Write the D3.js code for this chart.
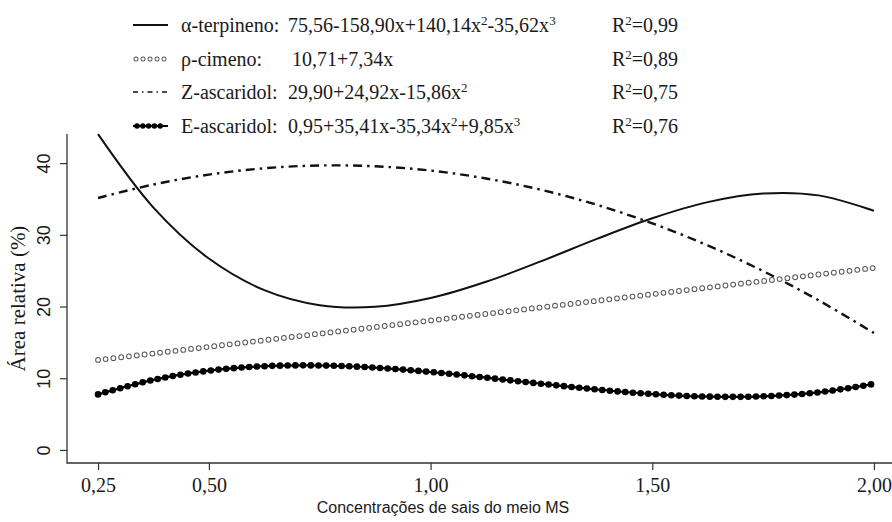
<!DOCTYPE html>
<html><head><meta charset="utf-8">
<script src="https://cdn.jsdelivr.net/npm/d3@7"></script>
<style>body{margin:0;background:#fff}svg{display:block}</style>
</head><body>
<svg id="c" width="892" height="522"></svg>
<script>
// Data (concentration of MS salts vs relative area %)
const concentrations = [0.25,0.375,0.5,0.625,0.75,0.875,1.0,1.125,1.25,1.375,1.5,1.625,1.75,1.875,2.0];
const alphaTerpineno = [44.04,33.80,26.69,22.29,20.19,19.96,21.18,23.45,26.33,29.43,32.31,34.56,35.76,35.50,33.36];
const rhoCimeno      = [12.55,13.46,14.38,15.30,16.22,17.13,18.05,18.97,19.89,20.80,21.72,22.64,23.56,24.47,25.39];
const zAscaridol     = [35.14,37.02,38.40,39.28,39.67,39.56,38.96,37.86,36.27,34.18,31.60,28.52,24.94,20.87,16.30];
const eAscaridol     = [7.75,9.78,11.05,11.68,11.78,11.48,10.87,10.08,9.23,8.43,7.79,7.44,7.48,8.03,9.21];

const xTicks = [0.25,0.5,1.0,1.5,2.0];
const xTickLabels = ["0,25","0,50","1,00","1,50","2,00"];
const yTicks = [0,10,20,30,40];

const legendNames = ["α-terpineno:","ρ-cimeno:","Z-ascaridol:","E-ascaridol:"];
// equations as segments: [text, superscript?]
const legendEquations = [
  [["75,56-158,90x+140,14x",0],["2",1],["-35,62x",0],["3",1]],
  [["10,71+7,34x",0]],
  [["29,90+24,92x-15,86x",0],["2",1]],
  [["0,95+35,41x-35,34x",0],["2",1],["+9,85x",0],["3",1]]
];
const legendR2 = ["0,99","0,89","0,75","0,76"];

const xTitle = "Concentrações de sais do meio MS";
const yTitle = "Área relativa (%)";

const svg = d3.select("#c");
const W = 892, H = 522;
const x = d3.scaleLinear().domain([0.18, 2.07]).range([67, 905]);
const y = d3.scaleLinear().domain([-1.82, 44.06]).range([463, 134]);

const serif = "'Liberation Serif','Times New Roman',serif";
const sans = "'Liberation Sans',Arial,sans-serif";
const axisColor = "#333";
const textColor = "#1a1a1a";

// L-shaped box
svg.append("path").attr("d", `M${x.range()[0]},${y.range()[1]}V${y.range()[0]}H${W}`)
  .attr("fill","none").attr("stroke",axisColor).attr("stroke-width",1.3);

// y axis
const gy = svg.append("g").attr("transform",`translate(${x.range()[0]},0)`)
  .call(d3.axisLeft(y).tickValues(yTicks).tickSize(7).tickFormat(d=>String(d)));
gy.select(".domain").remove();
gy.selectAll("line").attr("stroke",axisColor).attr("stroke-width",1.2);
gy.selectAll("text").attr("transform","rotate(-90)").attr("x",0).attr("y",-17).attr("dy",0)
  .attr("text-anchor","middle").attr("font-family",sans).attr("font-size",18).attr("fill",textColor);

// x axis
const gx = svg.append("g").attr("transform",`translate(0,${y.range()[0]})`)
  .call(d3.axisBottom(x).tickValues(xTicks).tickSize(7).tickFormat((d,i)=>xTickLabels[i]));
gx.select(".domain").remove();
gx.selectAll("line").attr("stroke",axisColor).attr("stroke-width",1.2);
gx.selectAll("text").attr("y",29).attr("dy",0).attr("font-family",serif).attr("font-size",20).attr("fill",textColor);

// titles
svg.append("text").attr("x",443).attr("y",513).attr("text-anchor","middle")
  .attr("font-family",sans).attr("font-size",16).attr("fill",textColor).text(xTitle);
svg.append("text").attr("transform",`translate(25,${(y.range()[0]+y.range()[1])/2}) rotate(-90)`)
  .attr("text-anchor","middle").attr("font-family",serif).attr("font-size",21).attr("fill",textColor).text(yTitle);

const line = (vals) => d3.line().x((d,i)=>x(concentrations[i])).y(d=>y(d)).curve(d3.curveCatmullRom.alpha(0.5))(vals);

const plot = svg.append("g");
// alpha-terpineno: solid
plot.append("path").attr("d",line(alphaTerpineno)).attr("fill","none").attr("stroke","#111").attr("stroke-width",2);
// Z-ascaridol: dot-dash
plot.append("path").attr("d",line(zAscaridol)).attr("fill","none").attr("stroke","#111").attr("stroke-width",2.4)
  .attr("stroke-dasharray","9,5,2.5,5");
// rho-cimeno: open circles (rings)
plot.append("path").attr("d",line(rhoCimeno)).attr("fill","none").attr("stroke","#555").attr("stroke-width",5.8)
  .attr("stroke-linecap","round").attr("stroke-dasharray","0,7.8");
plot.append("path").attr("d",line(rhoCimeno)).attr("fill","none").attr("stroke","#fff").attr("stroke-width",3.8)
  .attr("stroke-linecap","round").attr("stroke-dasharray","0,7.8");
// E-ascaridol: line + filled circles
plot.append("path").attr("d",line(eAscaridol)).attr("fill","none").attr("stroke","#000").attr("stroke-width",2.2);
plot.append("path").attr("d",line(eAscaridol)).attr("fill","none").attr("stroke","#000").attr("stroke-width",6.6)
  .attr("stroke-linecap","round").attr("stroke-dasharray","0,7.7");

// legend
const rowsY = [25,59,92,126];
const eqX = [288,292,288,288];
const fs = 20, sfs = 13;
const lg = svg.append("g");
rowsY.forEach((ry,i)=>{
  const s = `M133,${ry}H168`;
  if(i===0){
    lg.append("path").attr("d",s).attr("stroke","#111").attr("stroke-width",2);
  } else if(i===1){
    lg.append("path").attr("d",`M136,${ry}H166`).attr("stroke","#555").attr("stroke-width",5).attr("stroke-linecap","round").attr("stroke-dasharray","0,7");
    lg.append("path").attr("d",`M136,${ry}H166`).attr("stroke","#fff").attr("stroke-width",3.2).attr("stroke-linecap","round").attr("stroke-dasharray","0,7");
  } else if(i===2){
    lg.append("path").attr("d",s).attr("stroke","#111").attr("stroke-width",1.6).attr("stroke-dasharray","5,4,1.5,4");
  } else {
    lg.append("path").attr("d",s).attr("stroke","#000").attr("stroke-width",2);
    lg.append("path").attr("d",`M137,${ry}H166`).attr("stroke","#000").attr("stroke-width",5.5).attr("stroke-linecap","round").attr("stroke-dasharray","0,5.8");
  }
  lg.append("text").attr("x",181).attr("y",ry+7).attr("font-family",serif).attr("font-size",fs).attr("fill",textColor).text(legendNames[i]);
  const eq = lg.append("text").attr("x",eqX[i]).attr("y",ry+7).attr("font-family",serif).attr("font-size",fs).attr("fill",textColor);
  legendEquations[i].forEach((seg,k)=>{
    const t = eq.append("tspan").text(seg[0]);
    if(seg[1]) t.attr("font-size",sfs).attr("dy",-7); else t.attr("dy", k>0 ? 7 : 0);
  });
  const r = lg.append("text").attr("x",612).attr("y",ry+7).attr("font-family",serif).attr("font-size",fs).attr("fill",textColor);
  r.append("tspan").text("R");
  r.append("tspan").attr("font-size",sfs).attr("dy",-7).text("2");
  r.append("tspan").attr("dy",7).text("="+legendR2[i]);
});
</script>
</body></html>
